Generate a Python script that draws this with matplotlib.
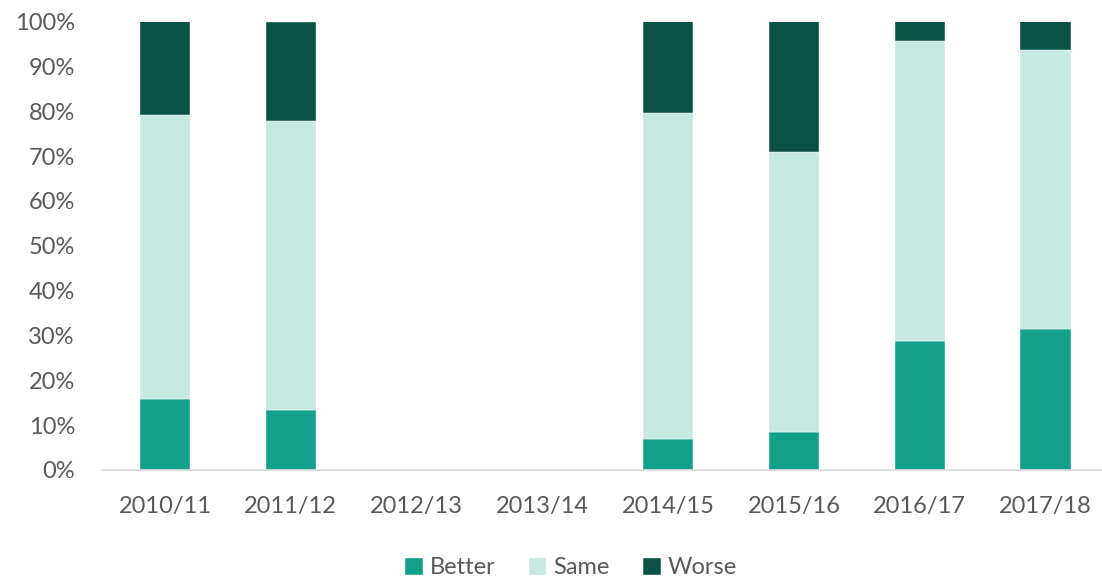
"""Stacked percentage bars: better / same / worse by year."""

import matplotlib.pyplot as plt
import numpy as np

years = ["2010/11", "2011/12", "2012/13", "2013/14",
         "2014/15", "2015/16", "2016/17", "2017/18"]
better = [15.8, 13.3, 0, 0, 6.9, 8.4, 28.7, 31.5]
same = [63.4, 64.6, 0, 0, 72.8, 62.4, 67.0, 62.1]
worse = [20.8, 22.1, 0, 0, 20.3, 29.2, 4.3, 6.4]

colors = ["#12A08A", "#C5E8E1", "#0A5245"]
text_color = "#595959"

plt.rcParams["font.family"] = ["Lato", "DejaVu Sans"]

fig = plt.figure(figsize=(11.02, 5.83), dpi=100)
ax = fig.add_axes([102 / 1102, 1 - 470 / 583, 1000 / 1102, (470 - 21.5) / 583])

x = np.arange(len(years))
bottom = np.zeros(len(years))
for name, vals, col in zip(["Better", "Same", "Worse"], [better, same, worse], colors):
    vals = np.array(vals)
    ax.bar(x, vals, width=0.4, bottom=bottom, color=col, label=name,
           edgecolor="white", linewidth=0.3)
    bottom += vals

ax.set_ylim(0, 100)
ax.set_xlim(-0.5, -0.5 + 1000 / 125.8)
ax.set_yticks(range(0, 101, 10))
ax.set_yticklabels([f"{v}%" for v in range(0, 101, 10)])
ax.set_xticks(x)
ax.set_xticklabels(years)
ax.tick_params(length=0, labelsize=17, colors=text_color)
ax.tick_params(axis="x", pad=19)
ax.tick_params(axis="y", pad=19.5)

for side in ["top", "right", "left"]:
    ax.spines[side].set_visible(False)
ax.spines["bottom"].set_color("#D9D9D9")
ax.spines["bottom"].set_linewidth(1.2)

leg = fig.legend(loc="center", bbox_to_anchor=(571 / 1102, 1 - 568 / 583), ncol=3,
                 frameon=False, fontsize=17, handlelength=0.75, handleheight=0.75,
                 handletextpad=0.3, columnspacing=1.4)
for t in leg.get_texts():
    t.set_color(text_color)

fig.savefig("out.png", dpi=100)
